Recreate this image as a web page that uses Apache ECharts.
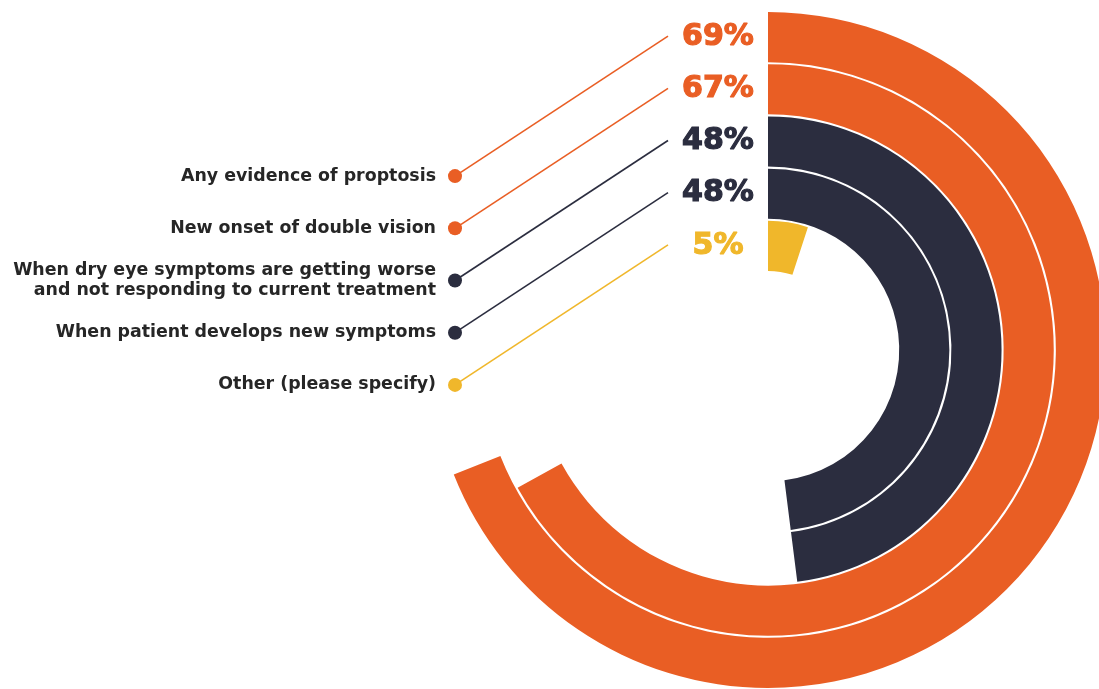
<!DOCTYPE html>
<html>
<head>
<meta charset="utf-8">
<script src="https://cdn.jsdelivr.net/npm/echarts@6/dist/echarts.min.js"></script>
<style>
  html, body { margin: 0; padding: 0; background: #ffffff; }
  #chart { width: 1099px; height: 689px; }
</style>
</head>
<body>
<div id="chart"></div>
<script>
// ---- data ----
const categories = [
  'Any evidence of proptosis',
  'New onset of double vision',
  'When dry eye symptoms are getting worse\nand not responding to current treatment',
  'When patient develops new symptoms',
  'Other (please specify)'
];
const values = [69, 67, 48, 48, 5];
const pctLabels = ['69%', '67%', '48%', '48%', '5%'];
const colors = ['#E95E24', '#E95E24', '#2B2D3F', '#2B2D3F', '#F0B72B'];

// ---- chart ----
const chart = echarts.init(document.getElementById('chart'), null, { renderer: 'canvas' });

const rich = {};
colors.forEach((c, i) => {
  rich['c' + i] = {
    color: c,
    fontFamily: 'DejaVu Sans',
    fontWeight: 'bold',
    fontSize: 30,
    textBorderColor: c,
    textBorderWidth: 1.2
  };
});

const option = {
  backgroundColor: '#ffffff',
  animation: false,
  polar: {
    center: [768, 350],
    radius: [78, 339]
  },
  angleAxis: {
    type: 'value',
    min: 0,
    max: 100,
    startAngle: 90,
    clockwise: true,
    show: false
  },
  radiusAxis: {
    type: 'category',
    data: categories,
    inverse: true,
    axisLine: { show: false },
    axisTick: { show: false },
    splitLine: { show: false },
    axisLabel: {
      show: true,
      interval: 0,
      hideOverlap: false,
      margin: 50,
      align: 'center',
      formatter: function (value, index) {
        let i = categories.indexOf(value);
        if (i < 0) i = index;
        return '{c' + i + '|' + pctLabels[i] + '}';
      },
      rich: rich
    }
  },
  series: [{
    type: 'bar',
    coordinateSystem: 'polar',
    barCategoryGap: '4%',
    data: values.map((v, i) => ({ value: v, itemStyle: { color: colors[i] } })),
    silent: true
  }]
};

chart.setOption(option);

// ---- annotation: leader lines, dots and category labels, positioned from polar coords ----
function buildAnnotations() {
  const els = [];
  categories.forEach((name, i) => {
    const p = chart.convertToPixel({ seriesIndex: 0 }, [i, 0]);
    if (!p) return;
    const endX = p[0] - 100;
    const endY = p[1] - 1;
    const dotX = p[0] - 313;
    const dotY = p[1] + 139;
    els.push({
      type: 'line',
      shape: { x1: dotX, y1: dotY, x2: endX, y2: endY },
      style: { stroke: colors[i], lineWidth: 1.6 },
      silent: true
    });
    els.push({
      type: 'circle',
      shape: { cx: dotX, cy: dotY, r: 7 },
      style: { fill: colors[i] },
      silent: true
    });
    els.push({
      type: 'text',
      x: dotX - 19,
      y: dotY,
      style: {
        text: name,
        align: 'right',
        verticalAlign: 'middle',
        fontFamily: 'DejaVu Sans',
        fontWeight: 'bold',
        fontSize: 17.4,
        lineHeight: 20,
        fill: '#262626'
      },
      silent: true
    });
  });
  chart.setOption({ graphic: { elements: els } });
}
buildAnnotations();
</script>
</body>
</html>
